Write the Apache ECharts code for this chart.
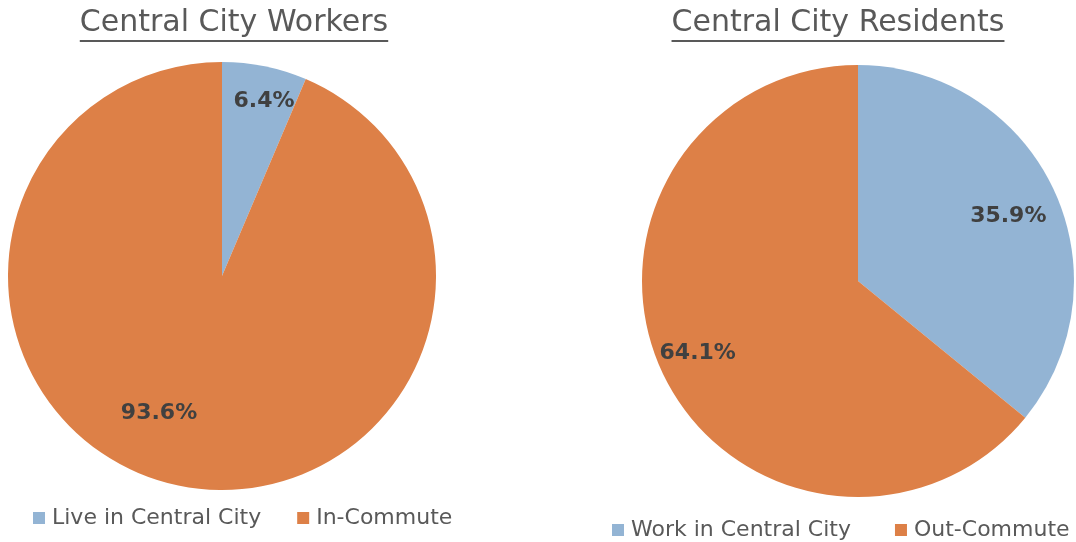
<!DOCTYPE html>
<html>
<head>
<meta charset="utf-8">
<script src="https://cdn.jsdelivr.net/npm/echarts@6/dist/echarts.min.js"></script>
<style>
  html, body { margin: 0; padding: 0; background: #fff; }
  #chart { width: 1076px; height: 542px; }
</style>
</head>
<body>
<div id="chart"></div>
<script>
const FONT = "DejaVu Sans";

const workerTitle = "Central City Workers";
const workerNames = ["Live in Central City", "In-Commute"];
const workerValues = [6.4, 93.6];

const residentTitle = "Central City Residents";
const residentNames = ["Work in Central City", "Out-Commute"];
const residentValues = [35.9, 64.1];

const colors = ["#93b4d4", "#dd8047"];

const chart = echarts.init(document.getElementById("chart"), null, { renderer: "canvas" });

// measure the title width so the underline fits it
function textWidth(text, size) {
  const ctx = document.createElement("canvas").getContext("2d");
  ctx.font = size + "px '" + FONT + "'";
  return ctx.measureText(text).width;
}

const titleSize = 30;
function underline(cx, text) {
  const w = textWidth(text, titleSize);
  return {
    type: "line",
    shape: { x1: cx - w / 2, y1: 41, x2: cx + w / 2, y2: 41 },
    style: { stroke: "#595959", lineWidth: 2 }
  };
}

function pieSeries(name, names, values, center, radius, offsets) {
  return {
    type: "pie",
    name: name,
    center: center,
    radius: [0, radius],
    startAngle: 90,
    clockwise: true,
    silent: true,
    animation: false,
    itemStyle: { borderWidth: 0 },
    label: {
      show: true,
      position: "inside",
      formatter: (p) => p.value.toFixed(1) + "%",
      fontFamily: FONT,
      fontSize: 22,
      fontWeight: "bold",
      color: "#404040"
    },
    labelLine: { show: false },
    data: names.map((n, i) => ({
      name: n,
      value: values[i],
      itemStyle: { color: colors[i] },
      label: { offset: offsets[i] }
    }))
  };
}

const titleStyle = { fontFamily: FONT, fontSize: titleSize, fontWeight: "normal", color: "#595959" };
const legendText = { fontFamily: FONT, fontSize: 22, color: "#595959", padding: [0, 0, 0, 2] };

chart.setOption({
  backgroundColor: "#ffffff",
  animation: false,
  title: [
    { text: workerTitle, left: 234, top: 8, padding: 0, textAlign: "center", textStyle: titleStyle },
    { text: residentTitle, left: 838, top: 8, padding: 0, textAlign: "center", textStyle: titleStyle }
  ],
  legend: [
    {
      data: workerNames,
      left: 33,
      top: 507,
      padding: 0,
      icon: "rect",
      itemWidth: 12,
      itemHeight: 12,
      itemGap: 36,
      selectedMode: false,
      textStyle: legendText
    },
    {
      data: residentNames,
      left: 612,
      top: 519,
      padding: 0,
      icon: "rect",
      itemWidth: 12,
      itemHeight: 12,
      itemGap: 44,
      selectedMode: false,
      textStyle: legendText
    }
  ],
  graphic: [underline(234, workerTitle), underline(838, residentTitle)],
  series: [
    pieSeries("Workers", workerNames, workerValues, [222, 276], 214, [[20, -67], [-41, 29]]),
    pieSeries("Residents", residentNames, residentValues, [858, 281], 216, [[50, -17], [-60, 25]])
  ]
});
</script>
</body>
</html>
